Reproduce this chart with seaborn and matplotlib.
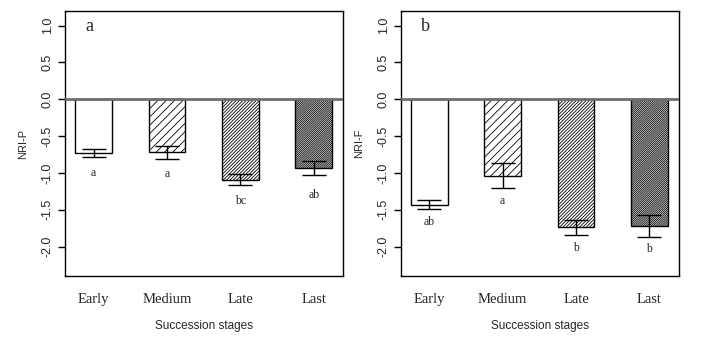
import matplotlib
matplotlib.use("Agg")
import matplotlib.pyplot as plt
import seaborn as sns
import pandas as pd
import numpy as np

stages = ["Early", "Medium", "Late", "Last"]
nri_p_mean = [-0.73, -0.72, -1.09, -0.93]
nri_p_se = [0.05, 0.09, 0.07, 0.095]
nri_p_letters = ["a", "a", "bc", "ab"]
nri_p_letter_y = [-1.00, -1.02, -1.38, -1.30]

nri_f_mean = [-1.43, -1.04, -1.74, -1.72]
nri_f_se = [0.065, 0.17, 0.105, 0.147]
nri_f_letters = ["ab", "a", "b", "b"]
nri_f_letter_y = [-1.66, -1.385, -2.02, -2.04]

yticks = [-2.0, -1.5, -1.0, -0.5, 0.0, 0.5, 1.0]
hatches = ["", "////", "/" * 10, "/" * 16]

sns.set_style("white")
plt.rcParams["hatch.linewidth"] = 0.6
plt.rcParams["font.family"] = ["Liberation Sans", "DejaVu Sans"]

fig = plt.figure(figsize=(7.03, 3.42), dpi=100)
ax_a = fig.add_axes([0.0925, 0.193, 0.3955, 0.775])
ax_b = fig.add_axes([0.570, 0.193, 0.3955, 0.775])

panels = [
    (ax_a, nri_p_mean, nri_p_se, nri_p_letters, nri_p_letter_y, "NRI-P", "a"),
    (ax_b, nri_f_mean, nri_f_se, nri_f_letters, nri_f_letter_y, "NRI-F", "b"),
]

for ax, mean, se, letters, ly, ylab, tag in panels:
    df = pd.DataFrame({"stage": stages, "value": mean})
    sns.barplot(data=df, x="stage", y="value", ax=ax, color="white",
                edgecolor="black", linewidth=1.0, width=0.5, errorbar=None,
                saturation=1)
    for p, h in zip(ax.patches, hatches):
        p.set_hatch(h)
        p.set_facecolor("white")
        p.set_edgecolor("black")
    xs = np.arange(len(stages))
    ax.errorbar(xs, mean, yerr=se, fmt="none", ecolor="black",
                elinewidth=1.0, capsize=8.3, capthick=1.0, zorder=5)
    ax.axhline(0, color="#6e6e6e", lw=2.0, zorder=6)
    for x, t, y in zip(xs, letters, ly):
        ax.text(x, y, t, ha="center", va="center", fontsize=8.5,
                family="Liberation Serif")
    ax.text(0.088, 0.943, tag, transform=ax.transAxes, ha="center",
            va="center", fontsize=13, family="Liberation Serif")
    ax.set_xlim(-0.39, 3.40)
    ax.set_ylim(-2.4, 1.2)
    ax.set_yticks(yticks)
    ax.set_yticklabels([f"{v:.1f}" for v in yticks], rotation=90,
                       va="center", fontsize=9)
    ax.tick_params(axis="y", direction="out", length=5, width=1,
                   color="black", pad=3, left=True)
    ax.tick_params(axis="x", length=0, pad=12)
    for lbl in ax.get_xticklabels():
        lbl.set_family("Liberation Serif")
        lbl.set_fontsize(10.5)
    ax.set_xlabel("Succession stages", fontsize=8.5, labelpad=10)
    ax.set_ylabel(ylab, fontsize=8, labelpad=10)
    for s in ax.spines.values():
        s.set_visible(True)
        s.set_color("black")
        s.set_linewidth(1.0)
    ax.grid(False)

fig.savefig("out.png", dpi=100)
